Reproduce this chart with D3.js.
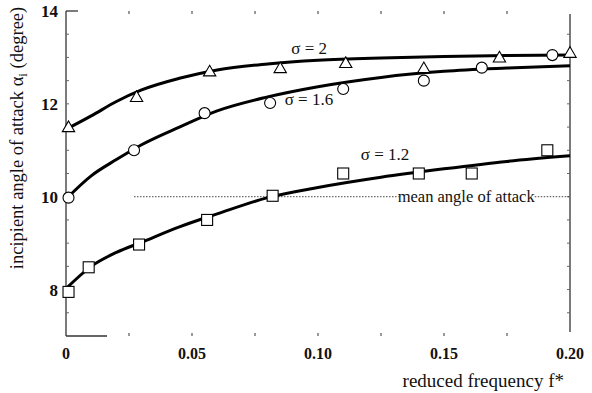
<!DOCTYPE html>
<html>
<head>
<meta charset="utf-8">
<title>incipient angle of attack</title>
<script src="https://cdn.jsdelivr.net/npm/d3@7"></script>
<style>
  body { margin: 0; background: #fff; }
  text { font-family: "Liberation Serif", "DejaVu Serif", serif; fill: #111; }
</style>
</head>
<body>
<script>
// data
const xTicks = [0, 0.05, 0.10, 0.15, 0.20];
const xTickLabels = ["0", "0.05", "0.10", "0.15", "0.20"];
const yTicks = [8, 10, 12, 14];

// fitted curves, sampled at fitF
const fitF = [0, 0.01, 0.02, 0.03, 0.045, 0.06, 0.08, 0.10, 0.125, 0.15, 0.175, 0.20];
const fit20 = [11.45, 11.74, 12.05, 12.3, 12.55, 12.73, 12.86, 12.94, 12.99, 13.02, 13.04, 13.05];
const fit16 = [9.95, 10.45, 10.8, 11.12, 11.5, 11.85, 12.15, 12.37, 12.57, 12.7, 12.77, 12.82];
const fit12 = [8.02, 8.5, 8.8, 9.02, 9.35, 9.63, 9.98, 10.2, 10.42, 10.6, 10.76, 10.88];

// measured points
const triF = [0.001, 0.028, 0.057, 0.085, 0.111, 0.142, 0.172, 0.200];
const triA = [11.5, 12.15, 12.7, 12.77, 12.88, 12.77, 13.0, 13.1];
const cirF = [0.001, 0.027, 0.055, 0.081, 0.110, 0.142, 0.165, 0.193];
const cirA = [9.98, 11.0, 11.8, 12.02, 12.32, 12.5, 12.78, 13.05];
const sqF = [0.001, 0.009, 0.029, 0.056, 0.082, 0.110, 0.140, 0.161, 0.191];
const sqA = [7.95, 8.48, 8.97, 9.5, 10.02, 10.5, 10.5, 10.5, 11.0];

const meanAngle = 10;

const width = 592, height = 393;
const mLeft = 66, mRight = 570, mTop = 11, mBottom = 336;

const x = d3.scaleLinear().domain([0, 0.2]).range([mLeft, mRight]);
const y = d3.scaleLinear().domain([7, 14]).range([mBottom, mTop]);

const svg = d3.select("body").append("svg")
    .attr("width", width)
    .attr("height", height);

// frame (the scan only shows part of top/bottom edges)
const frame = svg.append("g").attr("stroke", "#333").attr("stroke-width", 1.3).attr("fill", "none");
frame.append("line").attr("x1", mLeft).attr("x2", mLeft).attr("y1", mTop).attr("y2", mBottom);
frame.append("line").attr("x1", mRight).attr("x2", mRight).attr("y1", mTop + 3).attr("y2", mBottom - 4);
frame.append("line").attr("x1", mLeft).attr("x2", mLeft + 12).attr("y1", mTop).attr("y2", mTop);
frame.append("line").attr("x1", mLeft).attr("x2", mLeft + 41).attr("y1", mBottom).attr("y2", mBottom);

// small inward ticks
const minorX = d3.range(0.025, 0.2, 0.025);
svg.append("g").selectAll("line").data(minorX).join("line")
    .attr("x1", d => x(d)).attr("x2", d => x(d))
    .attr("y1", mTop).attr("y2", mTop + 3)
    .attr("stroke", "#555").attr("stroke-width", 1.2);
svg.append("g").selectAll("line").data(minorX).join("line")
    .attr("x1", d => x(d)).attr("x2", d => x(d))
    .attr("y1", mBottom).attr("y2", mBottom - 3)
    .attr("stroke", "#555").attr("stroke-width", 1.2);
const minorY = d3.range(7.5, 14, 0.5);
svg.append("g").selectAll("line").data(minorY).join("line")
    .attr("x1", mLeft).attr("x2", mLeft + 3)
    .attr("y1", d => y(d)).attr("y2", d => y(d))
    .attr("stroke", "#666").attr("stroke-width", 1);
svg.append("g").selectAll("line").data(minorY).join("line")
    .attr("x1", mRight).attr("x2", mRight - 3)
    .attr("y1", d => y(d)).attr("y2", d => y(d))
    .attr("stroke", "#666").attr("stroke-width", 1);

// tick labels
svg.append("g").selectAll("text").data(yTicks).join("text")
    .attr("x", mLeft - 8).attr("y", d => y(d) + 6)
    .attr("text-anchor", "end")
    .attr("font-size", 17).attr("font-weight", "bold")
    .text(d => d);
svg.append("g").selectAll("text").data(xTicks).join("text")
    .attr("x", d => x(d)).attr("y", 359)
    .attr("text-anchor", "middle")
    .attr("font-size", 16).attr("font-weight", "bold")
    .text((d, i) => xTickLabels[i]);

// axis titles
const yt = svg.append("text")
    .attr("transform", `translate(23,${138}) rotate(-90)`)
    .attr("text-anchor", "middle")
    .attr("font-size", 18.5);
yt.append("tspan").text("incipient angle of attack α");
yt.append("tspan").attr("font-size", 13).attr("dy", 4).text("i");
yt.append("tspan").attr("dy", -4).text(" (degree)");

svg.append("text")
    .attr("x", 564).attr("y", 387)
    .attr("text-anchor", "end")
    .attr("font-size", 19)
    .text("reduced frequency f*");

// mean angle line
const meanG = svg.append("g").attr("stroke", "#444").attr("stroke-width", 1).attr("stroke-dasharray", "1.5,1.5");
meanG.append("line").attr("x1", x(0.027)).attr("x2", x(0.132)).attr("y1", y(meanAngle)).attr("y2", y(meanAngle));
meanG.append("line").attr("x1", x(0.186)).attr("x2", mRight).attr("y1", y(meanAngle)).attr("y2", y(meanAngle));
svg.append("text")
    .attr("x", x(0.1588)).attr("y", y(meanAngle) + 5)
    .attr("text-anchor", "middle")
    .attr("font-size", 16.5)
    .text("mean angle of attack");

// fitted curves
const line = d3.line()
    .x((d, i) => x(fitF[i]))
    .y(d => y(d))
    .curve(d3.curveMonotoneX);
svg.append("g").selectAll("path").data([fit20, fit16, fit12]).join("path")
    .attr("d", line)
    .attr("fill", "none")
    .attr("stroke", "#000")
    .attr("stroke-width", 3);

// markers
const mk = svg.append("g").attr("fill", "#fff").attr("stroke", "#000").attr("stroke-width", 1.1);
mk.selectAll("path").data(triF).join("path")
    .attr("d", d3.symbol(d3.symbolTriangle, 66))
    .attr("transform", (d, i) => `translate(${x(d)},${y(triA[i]) + 1})`);
mk.selectAll("circle").data(cirF).join("circle")
    .attr("cx", d => x(d)).attr("cy", (d, i) => y(cirA[i]))
    .attr("r", 5.5);
mk.selectAll("rect").data(sqF).join("rect")
    .attr("x", d => x(d) - 5.5).attr("y", (d, i) => y(sqA[i]) - 5.5)
    .attr("width", 11).attr("height", 11);

// curve labels
const lab = [["σ = 2", 0.0965, 13.07], ["σ = 1.6", 0.0964, 11.98], ["σ = 1.2", 0.1266, 10.79]];
svg.append("g").selectAll("text").data(lab).join("text")
    .attr("x", d => x(d[1])).attr("y", d => y(d[2]))
    .attr("text-anchor", "middle")
    .attr("font-size", 17)
    .text(d => d[0]);
</script>
</body>
</html>
